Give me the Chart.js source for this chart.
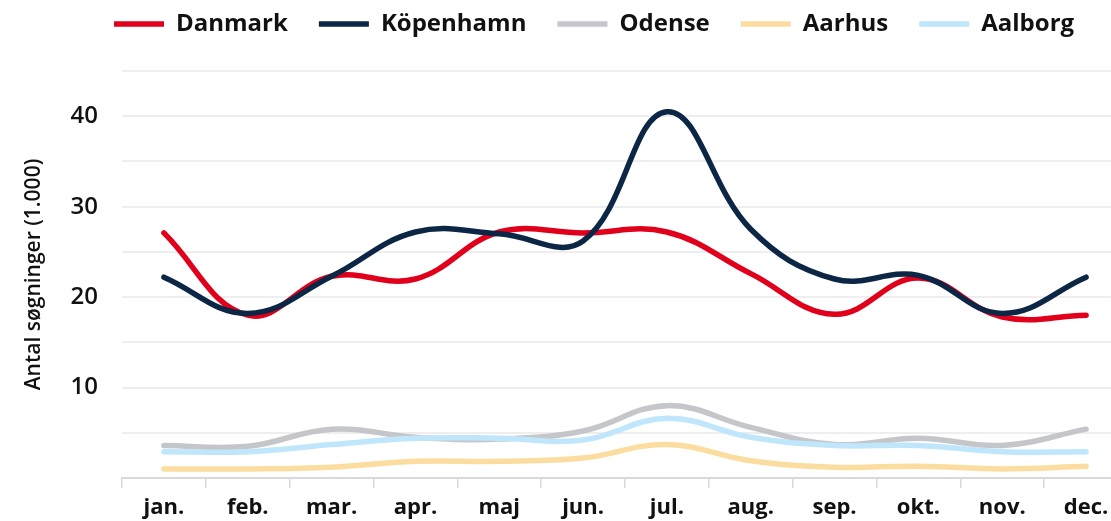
<!DOCTYPE html>
<html lang="da">
<head>
<meta charset="utf-8">
<title>Antal søgninger</title>
<script src="https://cdn.jsdelivr.net/npm/chart.js@4/dist/chart.umd.min.js"></script>
<style>
  html, body { margin: 0; padding: 0; overflow: hidden; background: #fff; }
  #wrap { position: relative; width: 1128px; height: 521px; }
</style>
</head>
<body>
<div id="wrap"><canvas id="soegChart"></canvas></div>
<script>
// Data
const maaneder = ["jan.", "feb.", "mar.", "apr.", "maj", "jun.", "jul.", "aug.", "sep.", "okt.", "nov.", "dec."];
const danmark = [27.1, 18, 22.3, 22, 27.2, 27.1, 27.2, 22.6, 18.1, 22.1, 17.8, 18];
const koebenhavn = [22.2, 18.2, 22.3, 27.2, 27, 26.2, 40.5, 27.5, 22, 22.4, 18.2, 22.2];
const odense = [3.6, 3.5, 5.4, 4.5, 4.3, 5.2, 8, 5.6, 3.7, 4.4, 3.6, 5.4];
const aarhus = [1, 1, 1.2, 1.85, 1.85, 2.2, 3.7, 1.9, 1.2, 1.3, 1, 1.3];
const aalborg = [2.9, 2.9, 3.7, 4.4, 4.4, 4.2, 6.6, 4.5, 3.6, 3.6, 2.9, 2.9];
const yLabels = [10, 20, 30, 40];

const fontFamily = "'Open Sans', sans-serif";

// flytter legenden på plads (venstrejusteret over plottet)
const legendPlacering = {
    id: "legendPlacering",
    afterLayout(chart) {
        const lg = chart.legend;
        const pad = lg.options.labels.padding;
        lg.left = 114 - pad;
        lg.right = lg.left + lg.width;
        lg.top = 24 - pad - 12;
        lg.bottom = lg.top + lg.height;
    },
};

function serie(label, data, color, order) {
    return {
        label: label,
        data: data,
        borderColor: color,
        backgroundColor: color,
        borderWidth: 5.5,
        borderCapStyle: "round",
        borderJoinStyle: "round",
        pointRadius: 0,
        pointHoverRadius: 0,
        pointStyle: "line",
        tension: 0.4,
        fill: false,
        order: order,
    };
}

new Chart(document.getElementById("soegChart"), {
    type: "line",
    data: {
        labels: maaneder,
        datasets: [
            serie("Danmark", danmark, "#E0001B", 1),
            serie("Köpenhamn", koebenhavn, "#0C2646", 0),
            serie("Odense", odense, "#C5C6CA", 4),
            serie("Aarhus", aarhus, "#FBDDA0", 2),
            serie("Aalborg", aalborg, "#BFE6FB", 3),
        ],
    },
    plugins: [legendPlacering],
    options: {
        responsive: true,
        maintainAspectRatio: false,
        animation: false,
        layout: { padding: { top: 6, left: 0, right: 0, bottom: 0 } },
        plugins: {
            legend: {
                display: true,
                position: "top",
                align: "start",
                maxHeight: 78,
                labels: {
                    usePointStyle: true,
                    pointStyle: "line",
                    pointStyleWidth: 50,
                    padding: 31,
                    color: "#111",
                    sort: (a, b) => a.datasetIndex - b.datasetIndex,
                    font: { family: fontFamily, size: 24, weight: "bold" },
                },
            },
            tooltip: { enabled: false },
        },
        scales: {
            x: {
                offset: true,
                afterFit: (scale) => { scale.height = 43; },
                grid: {
                    display: true,
                    offset: true,
                    drawOnChartArea: false,
                    drawTicks: true,
                    tickLength: 10,
                    color: "#d9d9d9",
                    lineWidth: 1.5,
                },
                border: { display: true, color: "#d9d9d9", width: 2 },
                ticks: {
                    color: "#111",
                    padding: 7,
                    maxRotation: 0,
                    font: { family: fontFamily, size: 22, weight: "bold" },
                },
            },
            y: {
                min: 0,
                max: 45,
                afterFit: (scale) => { scale.width = 122; },
                border: { display: false },
                grid: {
                    color: "#eeeeee",
                    lineWidth: 2,
                    drawTicks: false,
                },
                ticks: {
                    stepSize: 5,
                    padding: 24,
                    color: "#111",
                    font: { family: fontFamily, size: 24, weight: "600" },
                    callback: (v) => (yLabels.includes(v) ? v : ""),
                },
                title: {
                    display: true,
                    text: "Antal søgninger (1.000)",
                    color: "#111",
                    padding: { top: 21, bottom: 0 },
                    font: { family: fontFamily, size: 21, weight: "600", lineHeight: 1.2 },
                },
            },
        },
    },
});
</script>
</body>
</html>
